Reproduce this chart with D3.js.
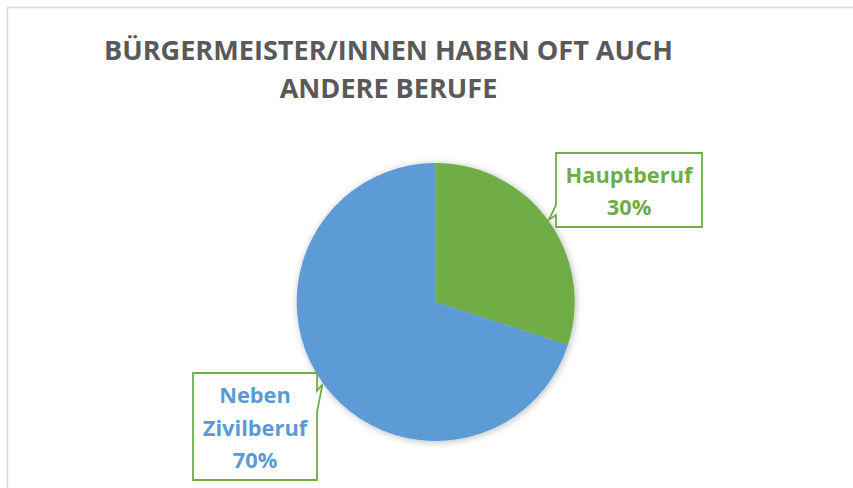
<!DOCTYPE html>
<html>
<head>
<meta charset="utf-8">
<script src="https://cdn.jsdelivr.net/npm/d3@7"></script>
<style>
  html, body { margin: 0; padding: 0; background: #fff; }
  svg { display: block; }
  text { font-family: "Open Sans", "DejaVu Sans", sans-serif; font-weight: bold; }
</style>
</head>
<body>
<div id="chart"></div>
<script>
// chart data
const categories = ["Hauptberuf", "Neben Zivilberuf"];
const values = [30, 70];
const labelLines = [["Hauptberuf", "30%"], ["Neben", "Zivilberuf", "70%"]];
const titleLines = ["BÜRGERMEISTER/INNEN HABEN OFT AUCH", "ANDERE BERUFE"];
const sliceColors = ["#70AD47", "#5B9BD5"];

const width = 853, height = 488;
const cx = 435.7, cy = 302, radius = 139;

const svg = d3.select("#chart")
  .append("svg")
  .attr("width", width)
  .attr("height", height);

// soft shadow like office charts
const defs = svg.append("defs");
const filt = defs.append("filter").attr("id", "shadow")
  .attr("x", "-20%").attr("y", "-20%").attr("width", "140%").attr("height", "140%");
filt.append("feDropShadow")
  .attr("dx", 1).attr("dy", 1)
  .attr("stdDeviation", 3.5)
  .attr("flood-color", "#000")
  .attr("flood-opacity", 0.28);

// cut-off text above the chart frame (only descenders visible)
svg.selectAll(".cut").data([155, 315]).enter().append("text")
  .attr("x", d => d).attr("y", -5)
  .attr("text-anchor", "middle")
  .style("font-weight", "normal")
  .style("font-size", "22px")
  .attr("fill", "#000")
  .text("g");

// chart frame
svg.append("path")
  .attr("d", `M7.5,${height + 2} V7.5 H${width + 2}`)
  .attr("fill", "none")
  .attr("stroke", "#d9d9d9")
  .attr("stroke-width", 1.5);

// fit text to a width
function fitText(sel, targetWidth) {
  const w = sel.node().getComputedTextLength();
  const fs = parseFloat(sel.style("font-size"));
  sel.style("font-size", (fs * targetWidth / w) + "px");
}

// title
const titleY = [60, 98];
const titleText = svg.selectAll(".title")
  .data(titleLines)
  .enter().append("text")
  .attr("class", "title")
  .attr("x", 388.5)
  .attr("y", (d, i) => titleY[i])
  .attr("text-anchor", "middle")
  .attr("fill", "#595959")
  .style("font-size", "24px")
  .text(d => d);
fitText(titleText.filter((d, i) => i === 0), 569);
titleText.style("font-size", titleText.filter((d, i) => i === 0).style("font-size"));

// pie
const pie = d3.pie().sort(null).value(d => d);
const arcs = pie(values);
const arc = d3.arc().innerRadius(0).outerRadius(radius);

const g = svg.append("g").attr("transform", `translate(${cx},${cy})`);
g.append("g").attr("filter", "url(#shadow)")
  .selectAll("path")
  .data(arcs)
  .enter().append("path")
  .attr("d", arc)
  .attr("fill", (d, i) => sliceColors[i]);

// callout boxes
const boxes = [
  { x0: 556, y0: 153, x1: 702, y1: 227, side: "left", p0: 205, p1: 215, lineY: [183, 215], cx: 629 },
  { x0: 193, y0: 373, x1: 317, y1: 480, side: "right", p0: 391, p1: 412, lineY: [403, 436, 468], cx: 255 }
];

const labelTexts = [];
arcs.forEach(function (a, i) {
  const b = boxes[i];
  const mid = (a.startAngle + a.endAngle) / 2;
  const tipX = cx + (radius + 1) * Math.sin(mid);
  const tipY = cy - (radius + 1) * Math.cos(mid);
  const p = d3.path();
  if (b.side === "left") {
    p.moveTo(b.x0, b.y0);
    p.lineTo(b.x1, b.y0);
    p.lineTo(b.x1, b.y1);
    p.lineTo(b.x0, b.y1);
    p.lineTo(b.x0, b.p1);
    p.lineTo(tipX, tipY);
    p.lineTo(b.x0, b.p0);
    p.closePath();
  } else {
    p.moveTo(b.x0, b.y0);
    p.lineTo(b.x1, b.y0);
    p.lineTo(b.x1, b.p0);
    p.lineTo(tipX, tipY);
    p.lineTo(b.x1, b.p1);
    p.lineTo(b.x1, b.y1);
    p.lineTo(b.x0, b.y1);
    p.closePath();
  }
  svg.append("path")
    .attr("d", p.toString())
    .attr("fill", "#fff")
    .attr("stroke", "#70AD47")
    .attr("stroke-width", 1.8);

  labelLines[i].forEach(function (t, j) {
    const lt = svg.append("text")
      .attr("x", b.cx)
      .attr("y", b.lineY[j])
      .attr("text-anchor", "middle")
      .attr("fill", sliceColors[i])
      .style("font-size", "20px")
      .text(t);
    labelTexts.push(lt);
  });
});
// size all label lines so "Hauptberuf" is as wide as in the reference
fitText(labelTexts[0], 127);
const lblSize = labelTexts[0].style("font-size");
labelTexts.forEach(lt => lt.style("font-size", lblSize));
</script>
</body>
</html>
